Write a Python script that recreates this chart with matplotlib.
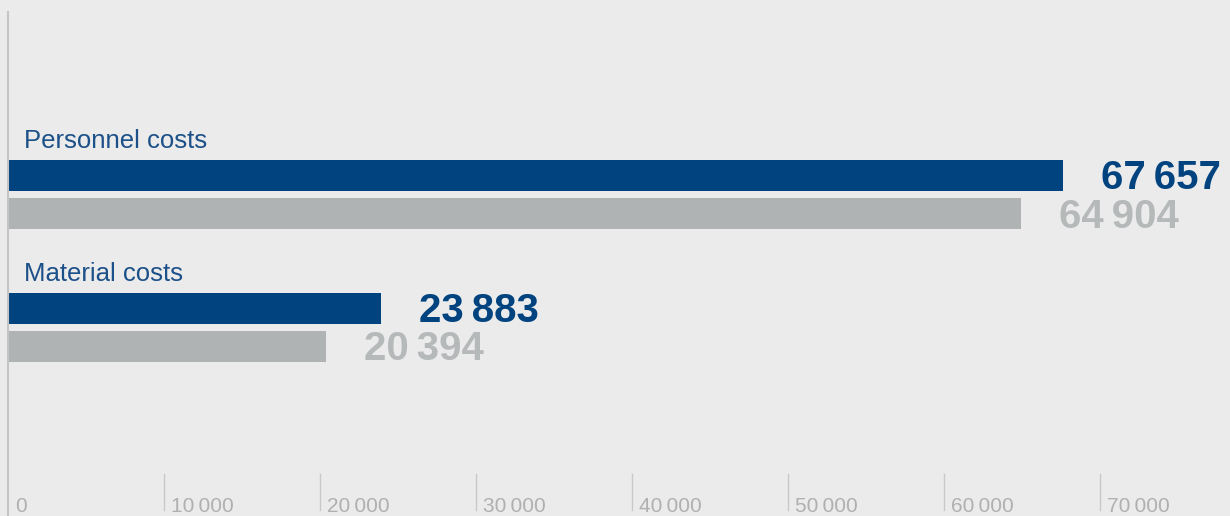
import matplotlib
matplotlib.use("Agg")
import matplotlib.pyplot as plt

categories = ["Personnel costs", "Material costs"]
current = [67657, 23883]
previous = [64904, 20394]
current_labels = ["67\u2009657", "23\u2009883"]
previous_labels = ["64\u2009904", "20\u2009394"]
ticks = [0, 10000, 20000, 30000, 40000, 50000, 60000, 70000]
tick_labels = ["0", "10\u2009000", "20\u2009000", "30\u2009000", "40\u2009000",
               "50\u2009000", "60\u2009000", "70\u2009000"]

blue = "#00437f"
grey_bar = "#b0b3b4"
grey_txt = "#b6b9ba"
bg = "#ebebeb"

plt.rcParams['font.family'] = ['Liberation Sans', 'DejaVu Sans']

fig = plt.figure(figsize=(12.3, 5.16), dpi=100, facecolor=bg)
ax = fig.add_axes([0, 0, 1, 1], facecolor=bg)

px = 10000 / 156.0
ax.set_xlim(-8 * px, (1230 - 8) * px)
ax.set_ylim(516, 0)

bar_h = 31
for i, cat in enumerate(categories):
    yb = 175 + i * 133
    yg = yb + 38.5
    ax.barh(yb, current[i], height=bar_h, color=blue, left=0)
    ax.barh(yg, previous[i], height=bar_h, color=grey_bar, left=0)
    ax.text(16 * px, yb - 27, cat, color="#1c5088", fontsize=18.5,
            ha="left", va="baseline")
    ax.text(current[i] + 38 * px, yb + 3, current_labels[i], color=blue,
            fontsize=29, fontweight="bold", ha="left", va="center")
    ax.text(previous[i] + 38 * px, yg + 3, previous_labels[i], color=grey_txt,
            fontsize=29, fontweight="bold", ha="left", va="center")

# left axis line
ax.plot([0, 0], [12, 516], color="#c4c4c4", lw=1.5)
for t, lab in zip(ticks, tick_labels):
    if t > 0:
        ax.plot([t, t], [474, 510], color="#c8c8c8", lw=1)
    ax.text(t + 7 * px, 512, lab, color="#b0b0b0", fontsize=15,
            ha="left", va="baseline")

ax.axis("off")
fig.savefig("out.png", dpi=100, facecolor=bg)
